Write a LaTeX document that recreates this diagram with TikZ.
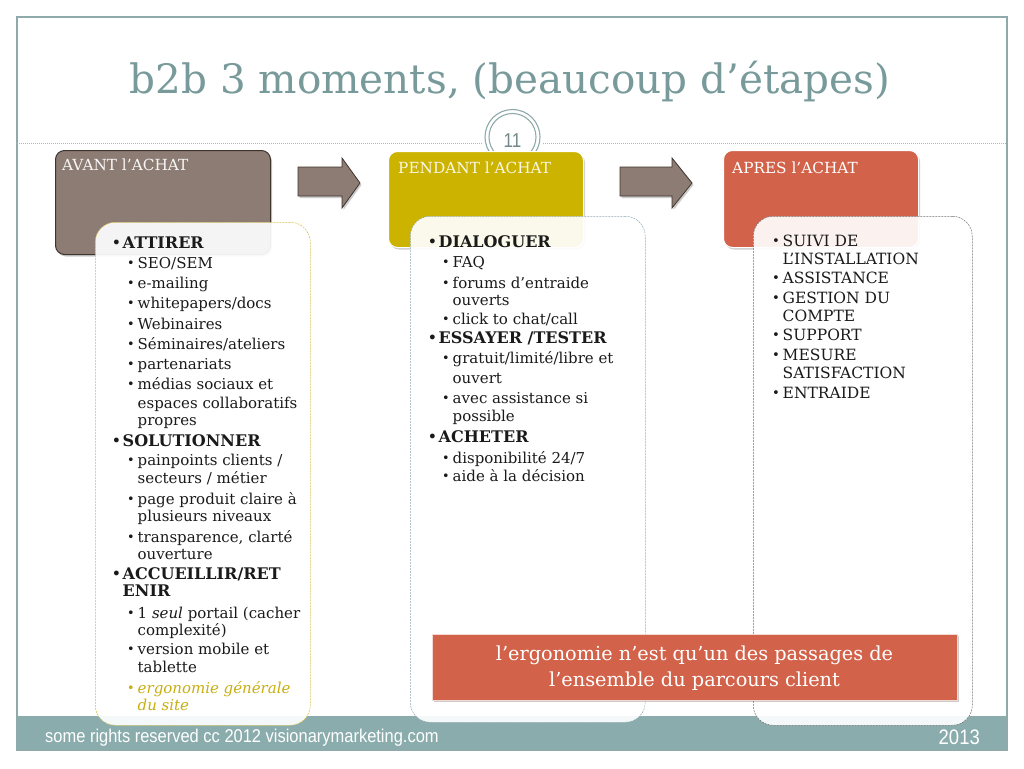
\documentclass[tikz,border=0pt]{standalone}
\usepackage{fontspec}
\usepackage{graphicx}
\setmainfont{DejaVu Serif}
\newfontfamily\sansf{Liberation Sans}
\usetikzlibrary{shadows}
\definecolor{frameC}{HTML}{8FAAAA}
\definecolor{bandC}{HTML}{8AACAC}
\definecolor{titleC}{HTML}{789A9A}
\definecolor{brownC}{HTML}{8C7C73}
\definecolor{brownD}{HTML}{3E342E}
\definecolor{yellowC}{HTML}{CCB300}
\definecolor{redC}{HTML}{D2634A}
\definecolor{dashY}{HTML}{D4BE45}
\definecolor{dashB}{HTML}{8FA8B2}
\definecolor{dashG}{HTML}{707070}
\definecolor{ergoC}{HTML}{C8AE10}
\definecolor{txtC}{HTML}{1A1A1A}
\newcommand\bl{\makebox[10.5pt][l]{\raisebox{0.04em}{\scalebox{0.85}{\textbullet}}}}
\begin{document}
\begin{tikzpicture}[x=1pt,y=-1pt,
  shd/.style={drop shadow={opacity=0.4, shadow xshift=1.5pt, shadow yshift=-2pt}},
  hdrbox/.style={rounded corners=9pt, shd, anchor=north west, inner sep=0pt},
  cbox/.style={rounded corners=20pt, fill=white, fill opacity=0.92, dashed, dash pattern=on 2pt off 1pt, line width=0.5pt, anchor=north west, inner sep=0pt},
  hdrtxt/.style={anchor=mid west, inner sep=0pt, yshift=-3pt, font=\fontsize{15.3}{17}\selectfont},
  lone/.style={anchor=mid west, inner sep=0pt, yshift=-3.5pt, font=\fontsize{16}{18}\selectfont\bfseries, text=txtC},
  ltwo/.style={anchor=mid west, inner sep=0pt, yshift=-3.5pt, font=\fontsize{15}{17}\selectfont, text=txtC},
  lcap/.style={ltwo, font=\fontsize{15.5}{17}\selectfont},
  ringline/.style={draw=frameC, line width=1.1pt},
  blockarrow/.style={fill=brownC, draw=brownD, line width=0.8pt, shd},
]
\useasboundingbox (0,0) rectangle (1024,768);
\fill[white] (0,0) rectangle (1024,768);
% footer band and frame
\fill[bandC] (17,716) rectangle (1007,750);
\draw[frameC, line width=1.2pt] (17,17) rectangle (1007,750);
% title
\node[anchor=base, inner sep=0pt, text=titleC, font=\fontsize{40.5}{44}\selectfont] (title) at (510,93) {b2b 3 moments, (beaucoup d’étapes)};
% dotted rule and page number
\draw[frameC!80, line width=1pt, dash pattern=on 1pt off 1pt] (17,143) -- (1007,143);
\fill[white] (512.5,137) circle (31);
\draw[ringline] (512.5,137) circle (27.5);
\draw[ringline] (512.5,137) circle (23.5);
\node[inner sep=0pt, text=frameC!80!black, font=\sansf\fontsize{20}{22}\selectfont] (pnum) at (512.5,141) {\scalebox{0.85}[1]{11}};
% header boxes
\node[hdrbox, fill=brownC, draw=brownD, line width=1pt, minimum width=215pt, minimum height=104pt] (h1) at (55,150) {};
\node[hdrbox, fill=yellowC, draw=white, line width=1pt, minimum width=195pt, minimum height=96pt] (h2) at (388,151) {};
\node[hdrbox, fill=redC, draw=white, line width=1pt, minimum width=195pt, minimum height=97pt] (h3) at (723,150) {};
\node[hdrtxt, text=white!93!brownC] (t1) at (62,165) {AVANT l’ACHAT};
\node[hdrtxt, text=white!90!yellowC] (t2) at (398,168) {PENDANT l’ACHAT};
\node[hdrtxt, text=white] (t3) at (732,168) {APRES l’ACHAT};
% block arrows
\draw[blockarrow] (298,167) -- (342,167) -- (342,158) -- (360,183) -- (342,208) -- (342,196) -- (298,196) -- cycle;
\draw[blockarrow] (620,167) -- (672,167) -- (672,158) -- (692,183) -- (672,208) -- (672,196) -- (620,196) -- cycle;
% content boxes
\node[cbox, draw=dashY, minimum width=215pt, minimum height=503pt] (c1) at (95,222) {};
\node[cbox, draw=dashB, minimum width=235pt, minimum height=506pt] (c2) at (410,216) {};
\node[cbox, draw=dashG, minimum width=219pt, minimum height=509pt] (c3) at (753,216) {};
% column 1
\node[lone] (a1) at (112,242) {\bl ATTIRER};
\node[ltwo] (a2) at (127,262) {\bl SEO/SEM};
\node[ltwo] (a3) at (127,282) {\bl e-mailing};
\node[ltwo] (a4) at (127,302) {\bl whitepapers/docs};
\node[ltwo] (a5) at (127,323) {\bl Webinaires};
\node[ltwo] (a6) at (127,343) {\bl Séminaires/ateliers};
\node[ltwo] (a7) at (127,363) {\bl partenariats};
\node[ltwo] (a8) at (127,383) {\bl médias sociaux et};
\node[ltwo] (a9) at (137.5,402) {espaces collaboratifs};
\node[ltwo] (a10) at (137.5,419) {propres};
\node[lone] (a11) at (112,440) {\bl SOLUTIONNER};
\node[ltwo] (a12) at (127,459) {\bl painpoints clients /};
\node[ltwo] (a13) at (137.5,477) {secteurs / métier};
\node[ltwo] (a14) at (127,498) {\bl page produit claire à};
\node[ltwo] (a15) at (137.5,515) {plusieurs niveaux};
\node[ltwo] (a16) at (127,536) {\bl transparence, clarté};
\node[ltwo] (a17) at (137.5,553) {ouverture};
\node[lone] (a18) at (112,573) {\bl ACCUEILLIR/RET};
\node[lone] (a19) at (122.5,590) {ENIR};
\node[ltwo] (a20) at (127,612) {\bl 1 \textit{seul} portail (cacher};
\node[ltwo] (a21) at (137.5,629) {complexité)};
\node[ltwo] (a22) at (127,648) {\bl version mobile et};
\node[ltwo] (a23) at (137.5,666) {tablette};
\node[ltwo, text=ergoC] (a24) at (127,687) {\bl\textit{ergonomie générale}};
\node[ltwo, text=ergoC] (a25) at (137.5,704) {\textit{du site}};
% column 2
\node[lone] (b1) at (428,241) {\bl DIALOGUER};
\node[ltwo] (b2) at (442,261) {\bl FAQ};
\node[ltwo] (b3) at (442,282) {\bl forums d’entraide};
\node[ltwo] (b4) at (452.5,299) {ouverts};
\node[ltwo] (b5) at (442,318) {\bl click to chat/call};
\node[lone] (b6) at (428,337) {\bl ESSAYER /TESTER};
\node[ltwo] (b7) at (442,357) {\bl gratuit/limité/libre et};
\node[ltwo] (b8) at (452.5,377) {ouvert};
\node[ltwo] (b9) at (442,397) {\bl avec assistance si};
\node[ltwo] (b10) at (452.5,415) {possible};
\node[lone] (b11) at (428,436) {\bl ACHETER};
\node[ltwo] (b12) at (442,457) {\bl disponibilité 24/7};
\node[ltwo] (b13) at (442,475) {\bl aide à la décision};
% column 3
\node[lcap] (d1) at (772,240) {\bl SUIVI DE};
\node[lcap] (d2) at (782.5,258) {L’INSTALLATION};
\node[lcap] (d3) at (772,277) {\bl ASSISTANCE};
\node[lcap] (d4) at (772,297) {\bl GESTION DU};
\node[lcap] (d5) at (782.5,315) {COMPTE};
\node[lcap] (d6) at (772,334) {\bl SUPPORT};
\node[lcap] (d7) at (772,354) {\bl MESURE};
\node[lcap] (d8) at (782.5,372) {SATISFACTION};
\node[lcap] (d9) at (772,392) {\bl ENTRAIDE};
% banner
\node[anchor=north west, inner sep=0pt, fill=redC, draw=white!75!redC, line width=0.8pt, shd, minimum width=525pt, minimum height=66pt] (banner) at (432,634) {};
\node[inner sep=0pt, text=white, align=center, font=\fontsize{19.3}{26}\selectfont] (bannertxt) at (694.5,668) {l’ergonomie n’est qu’un des passages de\\l’ensemble du parcours client};
% footer text
\node[anchor=base west, inner sep=0pt, text=white, font=\sansf\fontsize{18.5}{20}\selectfont] (foot) at (45,742) {\scalebox{0.89}[1]{some rights reserved cc 2012 visionarymarketing.com}};
\node[anchor=base east, inner sep=0pt, text=white, font=\sansf\fontsize{21}{22}\selectfont] (year) at (980,744) {\scalebox{0.88}[1]{2013}};
\end{tikzpicture}
\end{document}
